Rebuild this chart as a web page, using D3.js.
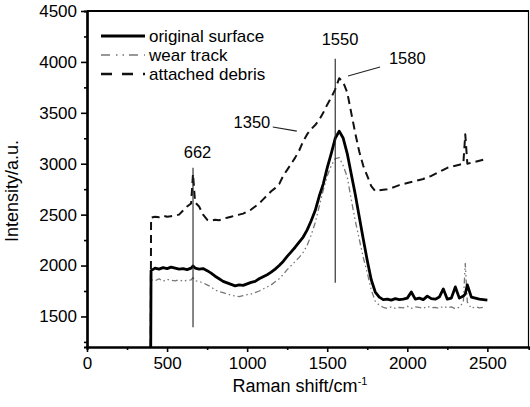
<!DOCTYPE html>
<html>
<head>
<meta charset="utf-8">
<script src="https://cdn.jsdelivr.net/npm/d3@7"></script>
<style>
	body { margin: 0; background: #fff; }
	text { font-family: "Liberation Sans", Arial, sans-serif; fill: #000; }
</style>
</head>
<body>
<div id="chart"></div>
<script>
// DATA
const ramanShift = [398, 400, 425, 450, 475, 500, 525, 550, 575, 600, 625, 650, 662, 675, 700, 725, 750, 775, 800, 825, 850, 875, 900, 925, 950, 975,
	1000, 1025, 1050, 1075, 1100, 1125, 1150, 1175, 1200, 1225, 1250, 1275, 1300, 1325, 1350, 1375, 1400, 1425, 1450, 1475,
	1500, 1525, 1550, 1575, 1600, 1625, 1650, 1675, 1700, 1725, 1750, 1775, 1800, 1825, 1850, 1875, 1900, 1925, 1950, 1975,
	2000, 2025, 2050, 2075, 2100, 2125, 2150, 2175, 2200, 2225, 2250, 2275, 2300, 2325, 2350, 2362, 2375, 2400, 2425, 2450, 2475, 2500];

const originalSurface = [1200, 1950, 1975, 1965, 1980, 1970, 1985, 1975, 1965, 1970, 1960, 1975, 1995, 1975, 1965, 1970, 1950, 1925, 1895, 1870, 1845, 1830, 1815, 1800, 1810, 1805,
	1820, 1835, 1845, 1870, 1890, 1910, 1935, 1965, 2000, 2040, 2090, 2135, 2180, 2230, 2280, 2350, 2440, 2540, 2680, 2800,
	2960, 3100, 3250, 3320, 3250, 3100, 2900, 2700, 2480, 2260, 2050, 1860, 1740, 1690, 1665, 1670, 1660, 1675, 1665, 1670,
	1680, 1740, 1670, 1680, 1665, 1700, 1675, 1670, 1690, 1770, 1670, 1680, 1790, 1680, 1700, 1720, 1810, 1690, 1680, 1670, 1665, 1660];

const wearTrack = [1200, 1860, 1850, 1870, 1845, 1865, 1855, 1850, 1860, 1845, 1855, 1860, 1880, 1850, 1845, 1830, 1810, 1790, 1760, 1745, 1735, 1720, 1710, 1700, 1695, 1705,
	1715, 1720, 1735, 1750, 1770, 1790, 1810, 1840, 1870, 1910, 1960, 2000, 2040, 2080, 2130, 2200, 2300, 2420, 2580, 2740,
	2880, 2980, 3050, 3060, 2980, 2870, 2650, 2440, 2260, 2080, 1930, 1760, 1650, 1610, 1590, 1580, 1595, 1580, 1590, 1585,
	1600, 1580, 1595, 1590, 1580, 1600, 1585, 1590, 1580, 1600, 1585, 1595, 1575, 1590, 1640, 2020, 1640, 1580, 1595, 1585, 1590];

const attachedDebris = [1200, 2470, 2480, 2475, 2490, 2480, 2485, 2490, 2500, 2540, 2580, 2610, 2900, 2620, 2580, 2500, 2450, 2440, 2450, 2445, 2460, 2470, 2480, 2490, 2500, 2510,
	2530, 2550, 2580, 2610, 2650, 2690, 2730, 2760, 2800, 2880, 2940, 3000, 3060, 3130, 3220, 3290, 3340, 3380, 3430, 3500,
	3580, 3650, 3730, 3840, 3800, 3700, 3500, 3300, 3120, 2980, 2880, 2780, 2730, 2740, 2745, 2750, 2760, 2775, 2790, 2800,
	2810, 2820, 2830, 2840, 2850, 2870, 2880, 2900, 2920, 2940, 2960, 2970, 2980, 2990, 3000, 3290, 3000, 3010, 3020, 3030, 3040, 3050];

const xTicks = [0, 500, 1000, 1500, 2000, 2500];
const yTicks = [1500, 2000, 2500, 3000, 3500, 4000, 4500];

// peak annotations: label, line start/end, label position
const peakLabels = ["662", "1350", "1550", "1580"];
const peakLines = [[662, 2960, 662, 1395], [1160, 3360, 1310, 3320], [1550, 4030, 1550, 1830], [1830, 3950, 1630, 3862]];
const peakLabelPos = [[690, 3060], [1030, 3355], [1580, 4170], [2000, 3975]];

const seriesNames = ["original surface", "wear track", "attached debris"];

// MARGIN CONVENTIONS
const margin = { top: 11, right: 1, bottom: 60, left: 87 };
const outerWidth = 530;
const outerHeight = 407;
const width = outerWidth - margin.left - margin.right;
const height = outerHeight - margin.top - margin.bottom;

const svg = d3.select("#chart").append("svg")
	.attr("width", outerWidth)
	.attr("height", outerHeight);

const g = svg.append("g")
	.attr("transform", `translate(${margin.left}, ${margin.top})`);

const x = d3.scaleLinear().domain([0, 2760]).range([0, width]);
const y = d3.scaleLinear().domain([1200, 4500]).range([height, 0]);

svg.append("defs").append("clipPath").attr("id", "clip")
	.append("rect").attr("width", width).attr("height", height);

const styles = [
	{ values: originalSurface, stroke: "#000", width: 2.8, dash: null },
	{ values: wearTrack, stroke: "#777", width: 1.3, dash: "6,3,1.5,3,1.5,3" },
	{ values: attachedDebris, stroke: "#111", width: 2, dash: "8,5" }
];

const line = d3.line()
	.x((d, i) => x(ramanShift[i]))
	.y(d => y(d));

const plot = g.append("g").attr("clip-path", "url(#clip)");

// draw wear track first, then debris, then original on top
[1, 2, 0].forEach(k => {
	plot.append("path")
		.datum(styles[k].values)
		.attr("fill", "none")
		.attr("stroke", styles[k].stroke)
		.attr("stroke-width", styles[k].width)
		.attr("stroke-dasharray", styles[k].dash)
		.attr("stroke-linejoin", "round")
		.attr("d", line);
});

// annotation lines
g.selectAll(".peak-line")
	.data(peakLines)
	.enter()
	.append("line")
	.attr("class", "peak-line")
	.attr("x1", d => x(d[0]))
	.attr("y1", d => y(d[1]))
	.attr("x2", d => x(d[2]))
	.attr("y2", d => y(d[3]))
	.attr("stroke", "#222")
	.attr("stroke-width", 1.1);

g.selectAll(".peak-label")
	.data(peakLabels)
	.enter()
	.append("text")
	.attr("class", "peak-label")
	.attr("x", (d, i) => x(peakLabelPos[i][0]))
	.attr("y", (d, i) => y(peakLabelPos[i][1]))
	.attr("text-anchor", "middle")
	.style("font-size", "16.5px")
	.text(d => d);

// axes
const xAxis = g.append("g")
	.attr("transform", `translate(0, ${height})`)
	.call(d3.axisBottom(x).tickValues(xTicks).tickFormat(d3.format("d")).tickSize(5).tickSizeOuter(0).tickPadding(5));

const xMinor = g.append("g")
	.attr("transform", `translate(0, ${height})`)
	.call(d3.axisBottom(x).tickValues([250, 750, 1250, 1750, 2250]).tickSize(3).tickFormat(""));

const yAxis = g.append("g")
	.call(d3.axisLeft(y).tickValues(yTicks).tickFormat(d3.format("d")).tickSize(6).tickSizeOuter(0).tickPadding(4));

const yMinor = g.append("g")
	.call(d3.axisLeft(y).tickValues([1250, 1750, 2250, 2750, 3250, 3750, 4250]).tickSize(3).tickFormat(""));

[xAxis, yAxis, xMinor, yMinor].forEach(a => {
	a.select(".domain").attr("stroke-width", 2.2);
	a.selectAll(".tick line").attr("stroke-width", 1.6);
	a.selectAll(".tick text").style("font-size", "17px").style("font-family", "\"Liberation Sans\", Arial, sans-serif");
});

// frame top and right
g.append("line")
	.attr("x1", 0).attr("x2", width)
	.attr("y1", 0).attr("y2", 0)
	.attr("stroke", "#000").attr("stroke-width", 2.2);

g.append("line")
	.attr("x1", width - 0.5).attr("x2", width - 0.5)
	.attr("y1", 0).attr("y2", height)
	.attr("stroke", "#000").attr("stroke-width", 1.2);

// labels
g.append("text")
	.attr("text-anchor", "middle")
	.attr("x", width / 2 - 8)
	.attr("y", height + margin.bottom - 15)
	.style("font-size", "18px")
	.text("Raman shift/cm")
	.append("tspan")
	.attr("dy", -7)
	.style("font-size", "11px")
	.text("-1");

g.append("text")
	.attr("text-anchor", "middle")
	.attr("transform", "rotate(-90)")
	.attr("x", -(191 - margin.top))
	.attr("y", -margin.left + 18)
	.style("font-size", "18px")
	.text("Intensity/a.u.");

// legend
const legendGroups = g.selectAll(".legend")
	.data(seriesNames)
	.enter()
	.append("g")
	.attr("class", "legend")
	.attr("transform", (d, i) => `translate(14, ${25 + i * 19})`);

legendGroups.append("line")
	.attr("x1", 0)
	.attr("x2", 44)
	.attr("stroke", (d, i) => styles[i].stroke)
	.attr("stroke-width", (d, i) => i === 0 ? 2.8 : i === 1 ? 1.3 : 2.4)
	.attr("stroke-dasharray", (d, i) => i === 0 ? null : i === 1 ? "9,6,1.5,5,1.5,5" : "11,10");

legendGroups.append("text")
	.attr("x", 48)
	.attr("y", 5.5)
	.style("font-size", "17px")
	.text(d => d);
</script>
</body>
</html>
